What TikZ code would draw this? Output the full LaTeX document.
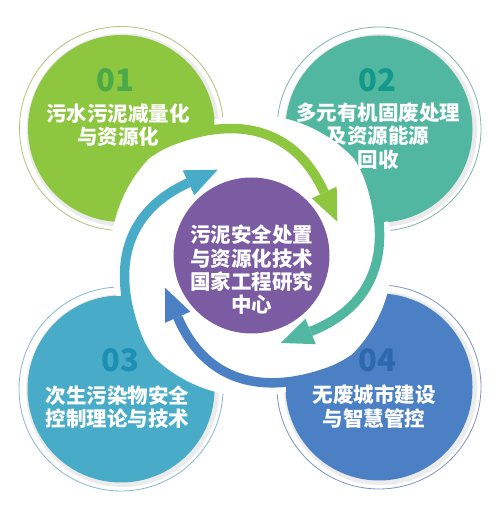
\documentclass[tikz,border=0pt]{standalone}
\usepackage{fontspec}
\setmainfont{Noto Sans CJK SC}
\usetikzlibrary{calc}
\definecolor{cGreen}{HTML}{8DC63F}
\definecolor{cTeal}{HTML}{52B7A0}
\definecolor{cCyan}{HTML}{48ACC8}
\definecolor{cBlue}{HTML}{4C80C4}
\definecolor{cPurple}{HTML}{7B5CA3}
\definecolor{cGreenNum}{HTML}{4BAA48}
\definecolor{cTealNum}{HTML}{12998A}
\definecolor{cCyanNum}{HTML}{1C8FB3}
\definecolor{cBlueNum}{HTML}{2D68AE}
\definecolor{cGreenLine}{HTML}{B5C27A}
\definecolor{cTealLine}{HTML}{7FB5AA}
\definecolor{cCyanLine}{HTML}{86B9CB}
\definecolor{cBlueLine}{HTML}{7D94C0}
\tikzset{
  halo/.style={fill=black!8},
  ring/.style={line width=0.8pt},
  num/.style={font=\fontsize{31}{31}\selectfont\bfseries, inner sep=0pt},
  lbl/.style={font=\fontsize{20.5}{23.3}\selectfont\bfseries, text=white, align=center, inner sep=0pt}
}
\def\swirl[#1](#2)(#3){%
  \begin{scope}
    \clip (#3) circle (93);
    \fill[#1, shift={(251.5,252.5)}, rotate=#2] (140:148) .. controls (-101.3,103.9) and (-92.8,109.9) .. (-80.3,114.7) .. controls (-13,140.5) and (44,126.7) .. (72.7,63) -- (40:175) arc (40:145:175) -- cycle;
  \end{scope}
  \draw[#1, line width=9.5pt, shift={(251.5,252.5)}, rotate=#2] (140:148) .. controls (-101.3,103.9) and (-92.8,109.9) .. (-80.3,114.7) .. controls (-13,140.5) and (44,126.7) .. (72.7,63);
  \fill[#1, shift={(251.5,252.5)}, rotate=#2] (60.2,57.2) -- (85.8,33.8) -- (85.2,68.8) -- cycle;
}

\begin{document}
\begin{tikzpicture}[x=1pt,y=1pt]
  \useasboundingbox (0,0) rectangle (500,508);
  \fill[white] (0,0) rectangle (500,508);

  \coordinate (ctrHub) at (251.5,252.5);
  \coordinate (ctrG) at (121.5,379.5);
  \coordinate (ctrT) at (379,379);
  \coordinate (ctrC) at (121,119);
  \coordinate (ctrB) at (379,121);

  % four discs
  \fill[halo] ($(ctrG)+(1.5,-1.5)$) circle (96.5);
  \fill[cGreen] (ctrG) circle (93.5);
  \draw[ring, cGreenLine] (ctrG) circle (102);

  \fill[halo] ($(ctrT)+(1.5,-1.5)$) circle (96.5);
  \fill[cTeal] (ctrT) circle (93.5);
  \draw[ring, cTealLine] (ctrT) circle (102);

  \fill[halo] ($(ctrC)+(1.5,-1.5)$) circle (96.5);
  \fill[cCyan] (ctrC) circle (93.5);
  \draw[ring, cCyanLine] (ctrC) circle (102);

  \fill[halo] ($(ctrB)+(1.5,-1.5)$) circle (96.5);
  \fill[cBlue] (ctrB) circle (93.5);
  \draw[ring, cBlueLine] (ctrB) circle (102);

  % white ring and arrows
  \fill[white] (ctrHub) circle (141);
  \swirl[cGreen](0)(ctrG)
  \swirl[cTeal](-93)(ctrT)
  \swirl[cBlue](-181)(ctrB)
  \swirl[cCyan](-270)(ctrC)

  % centre
  \node[circle, fill=cPurple, minimum size=156pt, inner sep=0pt] (hub) at (ctrHub) {};
  \node[lbl] (hubtxt) at (251.5,238) {污泥安全处置\\与资源化技术\\国家工程研究\\中心};

  \node[num, text=cGreenNum] (num01) at (115,428) {01};
  \node[lbl] (txt01) at (118,383) {污水污泥减量化\\与资源化};

  \node[num, text=cTealNum] (num02) at (377,428) {02};
  \node[lbl] (txt02) at (378,372) {多元有机固废处理\\及资源能源\\回收};

  \node[num, text=cCyanNum] (num03) at (120,147.3) {03};
  \node[lbl] (txt03) at (117.5,100.7) {次生污染物安全\\控制理论与技术};

  \node[num, text=cBlueNum] (num04) at (377,147.3) {04};
  \node[lbl] (txt04) at (374,101.5) {无废城市建设\\与智慧管控};
\end{tikzpicture}
\end{document}
